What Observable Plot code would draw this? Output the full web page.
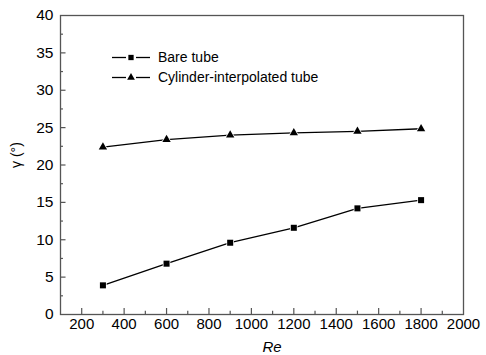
<!DOCTYPE html>
<html><head><meta charset="utf-8">
<script src="https://cdn.jsdelivr.net/npm/d3@7"></script>
<script src="https://cdn.jsdelivr.net/npm/@observablehq/plot@0.6"></script>
<style>body{margin:0;background:#fff}</style>
</head><body><div id="chart"></div>
<script>
const re = [300, 600, 900, 1200, 1500, 1800];
const bareTube = [3.9, 6.8, 9.6, 11.6, 14.2, 15.3];
const cylinderTube = [22.4, 23.4, 24.0, 24.3, 24.5, 24.85];
const seriesNames = ["Bare tube", "Cylinder-interpolated tube"];
const xTicks = [200, 400, 600, 800, 1000, 1200, 1400, 1600, 1800, 2000];
const xMinor = [300, 500, 700, 900, 1100, 1300, 1500, 1700, 1900];
const yTicks = [0, 5, 10, 15, 20, 25, 30, 35, 40];
const yMinor = [2.5, 7.5, 12.5, 17.5, 22.5, 27.5, 32.5, 37.5];

const bare = re.map((x, i) => ({x, y: bareTube[i]}));
const cyl = re.map((x, i) => ({x, y: cylinderTube[i]}));
const axisColor = "#555";

const chart = Plot.plot({
  width: 486, height: 355,
  marginLeft: 60, marginTop: 15, marginRight: 23, marginBottom: 41,
  style: {fontFamily: "'Liberation Sans', Arial, sans-serif", fontSize: "15px", background: "#fff", color: "#000"},
  x: {domain: [100, 2000]},
  y: {domain: [0, 40]},
  marks: [
    Plot.axisX({ticks: xTicks, tickFormat: d3.format("d"), tickSize: 0, tickPadding: 4, label: null, fontSize: 15}),
    Plot.axisY({ticks: yTicks, tickFormat: d3.format("d"), tickSize: 0, tickPadding: 7, label: null, fontSize: 15.5}),
    Plot.ruleX(xTicks.slice(0, -1), {y1: 0, y2: 0.8, stroke: axisColor, strokeWidth: 1.2}),
    Plot.ruleX(xMinor, {y1: 0, y2: 0.45, stroke: axisColor, strokeWidth: 1.2}),
    Plot.ruleY(yTicks.slice(1, -1), {x1: 100, x2: 126, stroke: axisColor, strokeWidth: 1.2}),
    Plot.ruleY(yMinor, {x1: 100, x2: 114, stroke: axisColor, strokeWidth: 1.2}),
    Plot.frame({stroke: axisColor, strokeWidth: 1.3}),
    Plot.line(bare, {x: "x", y: "y", stroke: "#000", strokeWidth: 1.3}),
    Plot.line(cyl, {x: "x", y: "y", stroke: "#000", strokeWidth: 1.3}),
    Plot.dot(bare, {x: "x", y: "y", symbol: "square", r: 3.4, fill: "#000", stroke: "#fff", strokeWidth: 1.5, paintOrder: "stroke"}),
    Plot.dot(cyl, {x: "x", y: "y", symbol: "triangle", r: 3.1, fill: "#000", stroke: "#fff", strokeWidth: 1.5, paintOrder: "stroke"}),
    Plot.text(["Re"], {frameAnchor: "bottom", lineAnchor: "middle", dy: 33, dx: 10, fontStyle: "italic", fontSize: 15}),
    Plot.text(["γ (°)"], {frameAnchor: "left", lineAnchor: "middle", dx: -44, dy: 3, rotate: -90, fontSize: 14})
  ]
});
document.getElementById("chart").appendChild(chart);

// legend inside plot area
const svg = d3.select(chart);
const leg = svg.append("g").attr("font-family", "'Liberation Sans', Arial, sans-serif").attr("font-size", 14).attr("text-anchor", "start");
const sym = [d3.symbolSquare, d3.symbolTriangle];
seriesNames.forEach((name, i) => {
  const y = 57.5 + i * 20;
  const g = leg.append("g").attr("transform", `translate(0,${y})`);
  g.append("line").attr("x1", 112).attr("x2", 126).attr("y1", 0).attr("y2", 0).attr("stroke", "#000").attr("stroke-width", 1.3);
  g.append("line").attr("x1", 136).attr("x2", 150).attr("y1", 0).attr("y2", 0).attr("stroke", "#000").attr("stroke-width", 1.3);
  g.append("path").attr("d", d3.symbol(sym[i], i ? 26 : 28)()).attr("transform", "translate(131,0)")
    .attr("fill", "#000");
  g.append("text").attr("x", 158).attr("y", 0).attr("dy", "0.35em").attr("fill", "#000").text(name);
});
</script>
</body></html>
